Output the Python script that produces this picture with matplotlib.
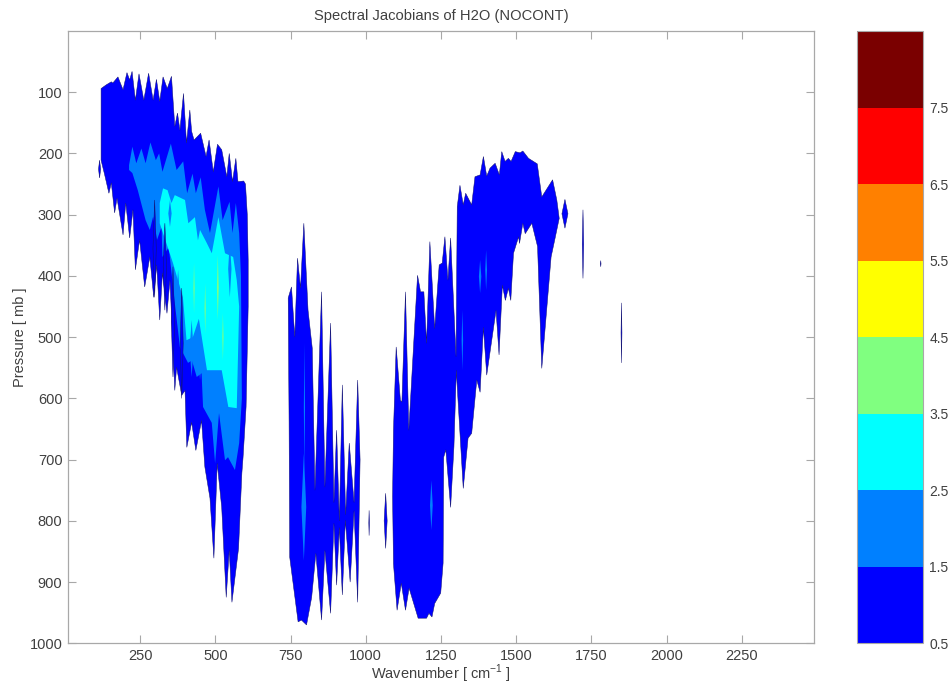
import matplotlib
matplotlib.use("Agg")
import matplotlib.pyplot as plt
from matplotlib.cm import ScalarMappable
from matplotlib.colors import BoundaryNorm, ListedColormap

plt.rcParams['font.family'] = ['Liberation Sans', 'DejaVu Sans']
plt.rcParams['mathtext.fontset'] = 'custom'
plt.rcParams['mathtext.rm'] = 'Liberation Sans'

levels = [0.5, 1.5, 2.5, 3.5, 4.5, 5.5, 6.5, 7.5, 8.5]
level_colors = ['#0000ff', '#0080ff', '#00ffff', '#80ff80', '#ffff00', '#ff8000', '#ff0000', '#7a0000']
x_ticks = [250, 500, 750, 1000, 1250, 1500, 1750, 2000, 2250]
y_ticks = [100, 200, 300, 400, 500, 600, 700, 800, 900, 1000]

# pasmo glowne 150-600 cm-1, poziom 0.5
main_top_wn = [120, 137, 154, 159, 176, 193, 206, 215, 223, 234, 246, 262, 278, 293, 304, 315, 326, 340, 354, 365,
               374, 382, 394, 404, 415, 421, 429, 451, 469, 479, 493, 507, 521, 538, 546, 557, 568, 575, 594, 600,
               606, 609]
main_top_p = [94, 88, 83, 85, 75, 96, 68, 80, 66, 113, 70, 113, 69, 113, 79, 115, 75, 94, 74, 156,
              134, 162, 102, 183, 129, 164, 178, 167, 205, 178, 230, 185, 194, 238, 200, 246, 208, 246, 245, 250,
              300, 374]
main_bot_wn = [120, 132, 146, 154, 165, 173, 193, 202, 215, 226, 234, 248, 265, 282, 295, 305, 315, 324, 339, 349,
               365, 371, 388, 399, 405, 421, 435, 454, 465, 482, 495, 506, 521, 536, 546, 555, 577, 588, 592, 602,
               609]
main_bot_p = [211, 235, 265, 248, 297, 273, 333, 281, 338, 292, 390, 341, 418, 369, 435, 382, 472, 395, 461, 407,
              587, 549, 595, 587, 680, 639, 685, 636, 712, 763, 861, 706, 778, 925, 848, 933, 845, 722, 696, 614,
              450]
# poziom 1.5
main2_top_wn = [213, 224, 237, 254, 268, 284, 302, 313, 324, 352, 371, 393, 406, 424, 435, 451, 465, 482, 510, 524,
                547, 557, 568, 579, 585, 588]
main2_top_p = [219, 189, 216, 192, 216, 182, 211, 200, 230, 184, 227, 213, 265, 233, 265, 239, 292, 330, 254, 309,
               279, 330, 281, 330, 400, 600]
main2_bot_wn = [213, 224, 242, 268, 282, 293, 306, 321, 324, 345, 365, 382, 409, 422, 438, 454, 459, 488, 499, 512,
                532, 542, 565, 579, 588]
main2_bot_p = [227, 232, 260, 309, 325, 303, 341, 320, 369, 353, 444, 516, 542, 538, 565, 559, 614, 640, 706, 624,
               701, 696, 717, 673, 600]
# poziom 2.5
main3_top_wn = [315, 326, 341, 354, 365, 399, 410, 432, 442, 449, 471, 488, 510, 532, 559, 571, 579]
main3_top_p = [281, 257, 260, 281, 268, 276, 314, 304, 342, 325, 346, 363, 304, 363, 369, 407, 450]
main3_bot_wn = [315, 359, 392, 404, 425, 445, 472, 521, 543, 571, 579]
main3_bot_p = [314, 379, 435, 505, 500, 470, 554, 554, 614, 616, 450]

# pasmo 750-1000
band2_top_wn = [742, 753, 764, 773, 783, 794, 808, 822, 831, 853, 864, 883, 894, 903, 912, 922, 933, 945, 961, 973, 981]
band2_top_p = [436, 418, 500, 371, 420, 314, 456, 518, 750, 426, 745, 477, 770, 652, 800, 578, 790, 673, 770, 570, 700]
band2_bot_wn = [742, 745, 747, 775, 786, 803, 820, 834, 853, 864, 883, 894, 903, 912, 922, 932, 948, 961, 973, 981]
band2_bot_p = [436, 640, 859, 965, 962, 970, 925, 853, 962, 848, 951, 804, 905, 811, 921, 799, 900, 783, 933, 700]

# pasmo 1100-1650
band3_top_wn = [1089, 1092, 1101, 1115, 1120, 1132, 1143, 1172, 1182, 1193, 1202, 1213, 1229, 1244, 1254, 1263, 1273,
                1282, 1300, 1304, 1313, 1324, 1332, 1352, 1363, 1380, 1391, 1402, 1413, 1430, 1444, 1452, 1463, 1474,
                1483, 1497, 1513, 1522, 1541, 1570, 1585, 1621, 1635, 1643]
band3_top_p = [760, 652, 516, 603, 606, 426, 652, 399, 426, 426, 510, 344, 486, 382, 379, 336, 407,
               338, 532, 287, 252, 284, 265, 284, 238, 235, 205, 237, 224, 216, 235, 197, 213, 208,
               213, 197, 199, 196, 208, 217, 271, 243, 276, 306]
band3_bot_wn = [1089, 1092, 1104, 1118, 1132, 1144, 1174, 1202, 1210, 1220, 1229, 1249, 1257, 1259, 1266, 1282, 1293,
                1301, 1305, 1324, 1340, 1352, 1369, 1380, 1391, 1402, 1433, 1443, 1454, 1464, 1474, 1482, 1491, 1508,
                1511, 1522, 1530, 1552, 1571, 1585, 1616, 1629, 1643]
band3_bot_p = [760, 870, 946, 902, 946, 910, 959, 959, 951, 957, 935, 918, 869, 696, 684, 778, 679,
               554, 590, 747, 665, 657, 570, 590, 484, 562, 456, 529, 415, 440, 420, 440, 363, 336,
               347, 314, 331, 314, 352, 551, 369, 339, 306]

# male izolowane obszary poziomu 0.5 (srodek, szerokosc, gora, dol)
spot_wn = [115, 1011, 1066, 1662, 1722, 1781, 1850]
spot_width = [7, 2, 10, 20, 5, 2, 3]
spot_top = [211, 783, 755, 275, 292, 375, 444]
spot_bot = [240, 824, 845, 322, 404, 385, 542]

# ciemne kolce poziomu 0.5 wewnatrz poziomu 1.5
dark_wn = [298, 332, 359, 388]
dark_width = [11, 11, 11, 10]
dark_top = [276, 314, 385, 420]
dark_bot = [435, 456, 565, 600]

# kolce poziomu 1.5 wewnatrz poziomu 2.5 i waskie smugi w pasmach
sliver_wn = [349, 376, 421, 449, 548, 796, 794, 1218, 1321, 1380, 1400]
sliver_width = [11, 13, 13, 13, 11, 4, 16, 9, 5, 8, 6]
sliver_top = [276, 390, 472, 494, 342, 510, 690, 734, 456, 374, 358]
sliver_bot = [320, 484, 565, 570, 435, 720, 865, 815, 554, 428, 423]

# waskie smugi poziomu 3.5
green_wn = [429, 466, 508, 525]
green_width = [4, 4, 6, 4]
green_top = [379, 412, 366, 461]
green_bot = [461, 494, 472, 538]

grey = '#a8a8a8'
text_color = '#404040'
fig = plt.figure(figsize=(9.51, 6.85), dpi=100)
ax = fig.add_axes([68 / 951, 1 - 643.3 / 685, 746 / 951, 612.3 / 685])


def region(top_wn, top_p, bot_wn, bot_p, level):
    # obszar zamkniety gorna i dolna krawedzia konturu
    wn = list(top_wn) + list(bot_wn)[::-1]
    p = list(top_p) + list(bot_p)[::-1]
    ax.fill(wn, p, facecolor=level_colors[level], edgecolor='#14146e' if level == 0 else 'none', linewidth=0.35)


def spots(centers, widths, tops, bots, level):
    for c, w, t, b in zip(centers, widths, tops, bots):
        ax.fill([c, c + w / 2, c, c - w / 2], [t, (t + b) / 2, b, (t + b) / 2],
                facecolor=level_colors[level], edgecolor='#14146e' if level == 0 else 'none', linewidth=0.35)


region(main_top_wn, main_top_p, main_bot_wn, main_bot_p, 0)
region(main2_top_wn, main2_top_p, main2_bot_wn, main2_bot_p, 1)
region(main3_top_wn, main3_top_p, main3_bot_wn, main3_bot_p, 2)
region(band2_top_wn, band2_top_p, band2_bot_wn, band2_bot_p, 0)
region(band3_top_wn, band3_top_p, band3_bot_wn, band3_bot_p, 0)
spots(spot_wn, spot_width, spot_top, spot_bot, 0)
spots(dark_wn, dark_width, dark_top, dark_bot, 0)
spots(sliver_wn, sliver_width, sliver_top, sliver_bot, 1)
spots(green_wn, green_width, green_top, green_bot, 3)

ax.set_xlim(10, 2490)
ax.set_ylim(1000, 0)
ax.set_xticks(x_ticks)
ax.set_yticks(y_ticks)
ax.tick_params(direction='in', length=5.5, width=0.8, color=grey, top=True, right=True,
               labelsize=10.5, labelcolor=text_color, pad=4)
for s in ax.spines.values():
    s.set_color(grey)
    s.set_linewidth(0.9)
ax.set_title('Spectral Jacobians of H2O (NOCONT)', fontsize=10.6, color=text_color, pad=8)
ax.set_xlabel('Wavenumber [ cm$^{-1}$ ]', fontsize=10.5, color=text_color, labelpad=0)
ax.set_ylabel('Pressure [ mb ]', fontsize=10.5, color=text_color, labelpad=2)

cax = fig.add_axes([857 / 951, 1 - 643.3 / 685, 66 / 951, 612.3 / 685])
sm = ScalarMappable(norm=BoundaryNorm(levels, len(level_colors)), cmap=ListedColormap(level_colors))
cb = fig.colorbar(sm, cax=cax, ticks=levels[:-1], spacing='proportional', drawedges=False)
cb.ax.set_yticklabels([str(v) for v in levels[:-1]])
cb.ax.minorticks_off()
cb.ax.tick_params(length=0, labelsize=10, labelcolor=text_color, pad=4.5)
cb.outline.set_edgecolor(grey)
cb.outline.set_linewidth(0.8)

fig.savefig('out.png', dpi=100)
